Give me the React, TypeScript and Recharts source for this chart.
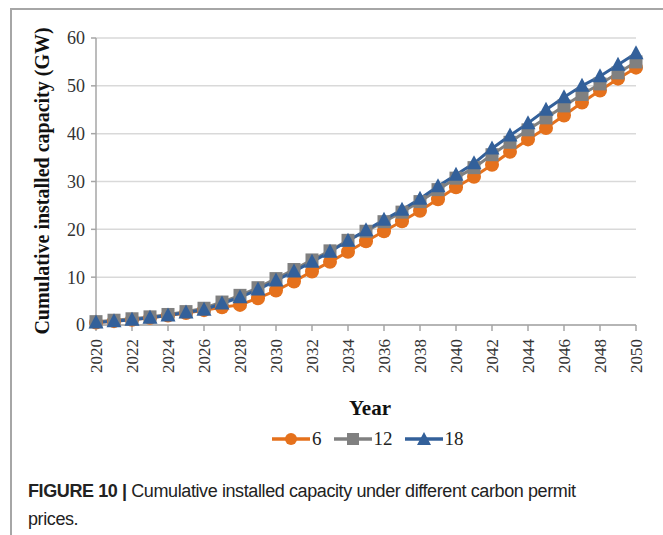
import React from "react";
import { LineChart, Line, XAxis, YAxis, CartesianGrid } from "recharts";

// years 2020..2050
const YEARS = [
  2020, 2021, 2022, 2023, 2024, 2025, 2026, 2027, 2028, 2029, 2030, 2031, 2032,
  2033, 2034, 2035, 2036, 2037, 2038, 2039, 2040, 2041, 2042, 2043, 2044, 2045,
  2046, 2047, 2048, 2049, 2050,
];

// carbon permit price 6
const PRICE_6 = [
  0.5, 0.8, 1.1, 1.5, 2.0, 2.5, 3.1, 3.7, 4.2, 5.6, 7.2, 9.1, 11.2, 13.2, 15.3,
  17.5, 19.6, 21.7, 23.9, 26.3, 28.8, 31.0, 33.5, 36.2, 38.8, 41.2, 43.8, 46.5,
  49.0, 51.5, 53.8,
];

// carbon permit price 12
const PRICE_12 = [
  0.7, 1.0, 1.3, 1.7, 2.2, 2.8, 3.5, 4.8, 6.2, 7.8, 9.7, 11.6, 13.6, 15.5, 17.7,
  19.6, 21.6, 23.6, 25.8, 28.3, 30.7, 32.9, 35.6, 38.2, 40.8, 43.3, 45.8, 48.2,
  50.4, 52.7, 55.0,
];

// carbon permit price 18
const PRICE_18 = [
  0.5, 0.8, 1.1, 1.5, 2.0, 2.6, 3.2, 4.5, 5.8, 7.4, 9.3, 11.2, 13.2, 15.3, 17.6,
  19.8, 22.0, 24.1, 26.4, 29.0, 31.4, 33.8, 36.9, 39.6, 42.2, 45.0, 47.6, 50.0,
  52.0, 54.4, 56.8,
];

const Y_TICKS = [0, 10, 20, 30, 40, 50, 60];

const COLORS = {
  p6: "#e5711c",
  p12: "#808080",
  p18: "#33609a",
};

const SERIF = "'Liberation Serif', 'Times New Roman', serif";
const SANS = "'Liberation Sans', Arial, sans-serif";

const data = YEARS.map((year, i) => ({
  year: String(year),
  p6: PRICE_6[i],
  p12: PRICE_12[i],
  p18: PRICE_18[i],
}));

const CircleDot = (props: any) => {
  const { cx, cy, index } = props;
  if (cx == null || cy == null) return null;
  return <circle key={`c-${index}`} cx={cx} cy={cy} r={7} fill={COLORS.p6} />;
};

const SquareDot = (props: any) => {
  const { cx, cy, index } = props;
  if (cx == null || cy == null) return null;
  return (
    <rect key={`s-${index}`} x={cx - 6.5} y={cy - 6.5} width={13} height={13} fill={COLORS.p12} />
  );
};

const TriangleDot = (props: any) => {
  const { cx, cy, index } = props;
  if (cx == null || cy == null) return null;
  return (
    <path
      key={`t-${index}`}
      d={`M${cx},${cy - 8} L${cx + 7.5},${cy + 6} L${cx - 7.5},${cy + 6} Z`}
      fill={COLORS.p18}
    />
  );
};

// rotated year labels
const YearTick = ({ x, y, payload }: any) => (
  <text
    x={x}
    y={y + 6}
    transform={`rotate(-90, ${x}, ${y + 6})`}
    textAnchor="end"
    dominantBaseline="central"
    fontFamily={SERIF}
    fontSize={17}
    fill="#333"
  >
    {payload.value}
  </text>
);

const LEGEND_ITEMS = [
  { label: "6", color: COLORS.p6, shape: "circle" },
  { label: "12", color: COLORS.p12, shape: "square" },
  { label: "18", color: COLORS.p18, shape: "triangle" },
];

const ChartLegend = () => (
  <div
    style={{
      position: "absolute",
      left: 272,
      top: 439,
      transform: "translateY(-50%)",
      display: "flex",
      gap: 12,
    }}
  >
    {LEGEND_ITEMS.map((item) => (
      <div key={item.label} style={{ display: "flex", alignItems: "center" }}>
        <svg width={38} height={16}>
          <line x1={0} y1={8} x2={38} y2={8} stroke={item.color} strokeWidth={3.5} />
          {item.shape === "circle" && <circle cx={19} cy={8} r={6} fill={item.color} />}
          {item.shape === "square" && <rect x={13} y={2} width={12} height={12} fill={item.color} />}
          {item.shape === "triangle" && <path d="M19,1 L26,14 L12,14 Z" fill={item.color} />}
        </svg>
        <span style={{ fontFamily: SERIF, fontSize: 19, color: "#222", marginLeft: 2 }}>
          {item.label}
        </span>
      </div>
    ))}
  </div>
);

export default function App() {
  return (
    <div
      style={{
        position: "absolute",
        left: 0,
        top: 0,
        width: 663,
        height: 535,
        background: "#fff",
        overflow: "hidden",
      }}
    >
      {/* figure frame */}
      <div
        style={{
          position: "absolute",
          left: 10,
          top: 8,
          width: 680,
          height: 560,
          borderLeft: "2px solid #a6a6a6",
          borderTop: "2px solid #a6a6a6",
        }}
      />

      <div style={{ position: "absolute", left: 0, top: 0 }}>
        <LineChart
          width={663}
          height={380}
          data={data}
          margin={{ top: 38, right: 27, left: 0, bottom: 0 }}
        >
          <CartesianGrid vertical={false} stroke="#d9d9d9" strokeWidth={1.5} />
          <XAxis
            dataKey="year"
            interval={1}
            height={55}
            tick={<YearTick />}
            tickSize={6}
            axisLine={{ stroke: "#a6a6a6", strokeWidth: 1.5 }}
            tickLine={{ stroke: "#a6a6a6", strokeWidth: 1.5 }}
          />
          <YAxis
            type="number"
            domain={[0, 60]}
            ticks={Y_TICKS}
            width={96}
            tickSize={5}
            tickMargin={6}
            tick={{ fontFamily: SERIF, fontSize: 18, fill: "#333" }}
            axisLine={{ stroke: "#a6a6a6", strokeWidth: 1.5 }}
            tickLine={{ stroke: "#a6a6a6", strokeWidth: 1.5 }}
          />
          <Line
            type="linear"
            dataKey="p6"
            name="6"
            stroke={COLORS.p6}
            strokeWidth={3}
            dot={CircleDot}
            activeDot={false}
            isAnimationActive={false}
          />
          <Line
            type="linear"
            dataKey="p12"
            name="12"
            stroke={COLORS.p12}
            strokeWidth={3}
            dot={SquareDot}
            activeDot={false}
            isAnimationActive={false}
          />
          <Line
            type="linear"
            dataKey="p18"
            name="18"
            stroke={COLORS.p18}
            strokeWidth={3}
            dot={TriangleDot}
            activeDot={false}
            isAnimationActive={false}
          />
        </LineChart>
      </div>

      <ChartLegend />

      {/* y axis title */}
      <div
        style={{
          position: "absolute",
          left: 42,
          top: 181,
          transform: "translate(-50%, -50%) rotate(-90deg)",
          whiteSpace: "nowrap",
          fontFamily: SERIF,
          fontWeight: "bold",
          fontSize: 20,
          color: "#111",
        }}
      >
        Cumulative installed capacity (GW)
      </div>

      {/* x axis title */}
      <div
        style={{
          position: "absolute",
          left: 370,
          top: 408,
          transform: "translate(-50%, -50%)",
          fontFamily: SERIF,
          fontWeight: "bold",
          fontSize: 21,
          color: "#111",
        }}
      >
        Year
      </div>

      {/* caption */}
      <div
        style={{
          position: "absolute",
          left: 28,
          top: 477,
          fontFamily: SANS,
          fontSize: 18,
          lineHeight: "28px",
          color: "#222",
          letterSpacing: -0.4,
        }}
      >
        <b>FIGURE 10 |</b> Cumulative installed capacity under different carbon permit
        <br />
        prices.
      </div>
    </div>
  );
}
